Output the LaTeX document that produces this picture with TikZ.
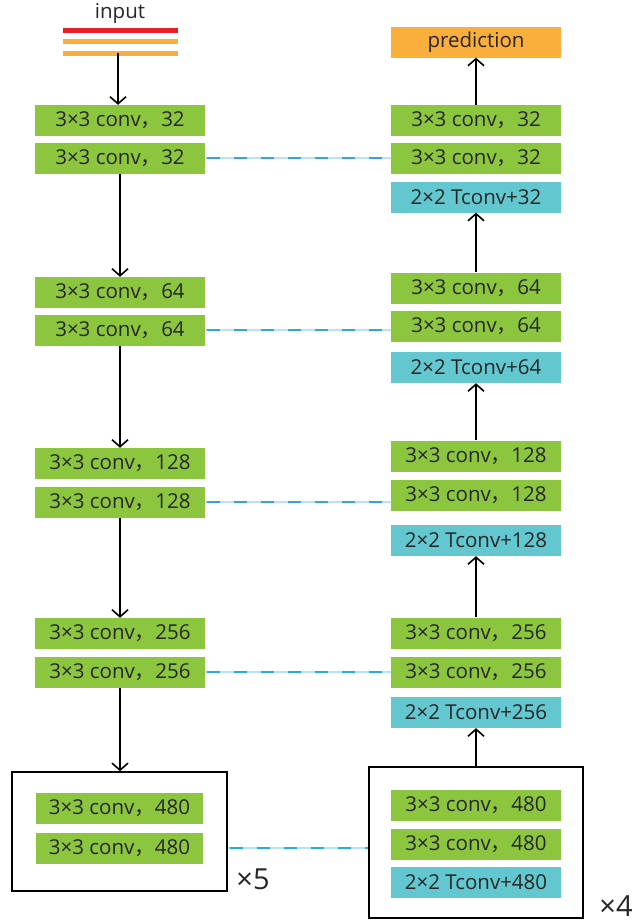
\documentclass[tikz,border=0pt]{standalone}
\usepackage{fontspec}
\setmainfont{Open Sans}
\newfontfamily\cjkfont{Noto Sans CJK SC}
\newcommand{\cc}{{\cjkfont ，}}
\usetikzlibrary{arrows.meta}
\definecolor{cgreen}{HTML}{8CC63F}
\definecolor{ccyan}{HTML}{63C7D0}
\definecolor{corange}{HTML}{FAAE3B}
\definecolor{cred}{HTML}{ED1C24}
\definecolor{cdash}{HTML}{2AA8E0}
\definecolor{clight}{HTML}{B8E2F5}
\tikzset{
  box/.style={minimum width=170pt, minimum height=31pt, inner sep=0pt, font=\fontsize{20.5}{24}\selectfont, text=black!85},
  gbox/.style={box, fill=cgreen},
  cbox/.style={box, fill=ccyan},
  obox/.style={box, fill=corange},
  frame/.style={draw=black, line width=1.6pt},
  arr/.style={-{Straight Barb[length=7pt,width=16pt]}, line width=1.6pt},
  skipl/.style={clight, line width=1.5pt},
  skipd/.style={cdash, line width=2.6pt, dash pattern=on 13pt off 14pt, dash phase=-2pt},
  bar/.style={line width=5pt},
  mult/.style={font=\fontsize{29}{32}\selectfont, text=black!85},
}
\begin{document}
\begin{tikzpicture}[x=1pt,y=-1pt]
\useasboundingbox (0,0) rectangle (637,924);
% input
\node[font=\fontsize{20.5}{24}\selectfont, text=black!85] (input) at (120,13) {input};
\draw[bar, cred] (63,30) -- (178,30);
\draw[bar, corange] (63,41.5) -- (178,41.5);
\draw[bar, corange] (63,53) -- (178,53);
\coordinate (inbot) at (118,53);
% left column
\node[gbox] (l32a) at (120,120.5) {3×3 conv\cc 32};
\node[gbox] (l32b) at (120,158) {3×3 conv\cc 32};
\node[gbox] (l64a) at (120,292.5) {3×3 conv\cc 64};
\node[gbox] (l64b) at (120,330) {3×3 conv\cc 64};
\node[gbox] (l128a) at (120,463.5) {3×3 conv\cc 128};
\node[gbox] (l128b) at (120,502) {3×3 conv\cc 128};
\node[gbox] (l256a) at (120,633.5) {3×3 conv\cc 256};
\node[gbox] (l256b) at (120,672) {3×3 conv\cc 256};
\node[frame, minimum width=215pt, minimum height=119pt, inner sep=0pt] (lbig) at (119.5,831.5) {};
\node[gbox, minimum width=167pt] (l480a) at (119.5,808) {3×3 conv\cc 480};
\node[gbox, minimum width=167pt] (l480b) at (119.5,848) {3×3 conv\cc 480};
\node[mult] (x5) at (253,879) {×5};
% right column
\node[obox] (pred) at (476,42) {prediction};
\node[gbox] (r32a) at (476,120.5) {3×3 conv\cc 32};
\node[gbox] (r32b) at (476,158) {3×3 conv\cc 32};
\node[cbox] (t32) at (476,197) {2×2 Tconv+32};
\node[gbox] (r64a) at (476,288) {3×3 conv\cc 64};
\node[gbox] (r64b) at (476,326) {3×3 conv\cc 64};
\node[cbox] (t64) at (476,367.5) {2×2 Tconv+64};
\node[gbox] (r128a) at (476,456) {3×3 conv\cc 128};
\node[gbox] (r128b) at (476,495.5) {3×3 conv\cc 128};
\node[cbox] (t128) at (476,540.5) {2×2 Tconv+128};
\node[gbox] (r256a) at (476,633) {3×3 conv\cc 256};
\node[gbox] (r256b) at (476,672) {3×3 conv\cc 256};
\node[cbox] (t256) at (476,712.5) {2×2 Tconv+256};
\node[frame, minimum width=214pt, minimum height=151pt, inner sep=0pt] (rbig) at (476,842.5) {};
\node[gbox] (r480a) at (476,805) {3×3 conv\cc 480};
\node[gbox] (r480b) at (476,844) {3×3 conv\cc 480};
\node[cbox] (t480) at (476,882) {2×2 Tconv+480};
\node[mult] (x4) at (616,906) {×4};
% arrows left
\draw[arr] (inbot) -- (l32a.north -| inbot);
\draw[arr] (l32b.south) -- (l64a.north);
\draw[arr] (l64b.south) -- (l128a.north);
\draw[arr] (l128b.south) -- (l256a.north);
\draw[arr] (l256b.south) -- (l256b.south |- lbig.north);
% arrows right
\draw[arr] (r32a.north) -- (pred.south);
\draw[arr] (r64a.north) -- (t32.south);
\draw[arr] (r128a.north) -- (t64.south);
\draw[arr] (r256a.north) -- (t128.south);
\draw[arr] (rbig.north) -- (t256.south);
% skip connections
\foreach \a/\b in {l32b/r32b, l64b/r64b, l128b/r128b, l256b/r256b}{
  \draw[skipl] (\a.east) -- (\a.east -| \b.west);
  \draw[skipd] (\a.east) -- (\a.east -| \b.west);
}
\draw[skipl] (lbig.east |- l480b) -- (rbig.west |- l480b);
\draw[skipd] (lbig.east |- l480b) -- (rbig.west |- l480b);
\end{tikzpicture}
\end{document}
